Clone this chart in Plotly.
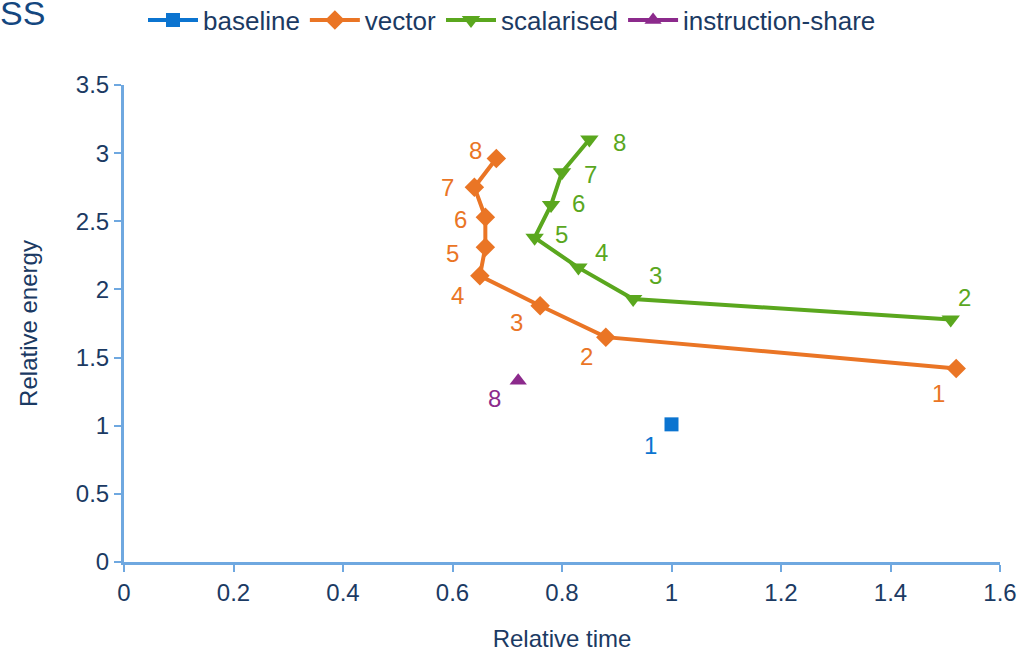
import plotly.graph_objects as go

# Data
baseline_x = [1.0]
baseline_y = [1.01]
baseline_lbl = ["1"]

vector_x = [1.52, 0.88, 0.76, 0.65, 0.66, 0.66, 0.64, 0.68]
vector_y = [1.42, 1.65, 1.88, 2.10, 2.31, 2.53, 2.75, 2.96]
vector_lbl = ["1", "2", "3", "4", "5", "6", "7", "8"]

scal_x = [1.51, 0.93, 0.83, 0.75, 0.78, 0.80, 0.85]
scal_y = [1.78, 1.93, 2.16, 2.38, 2.62, 2.86, 3.10]
scal_lbl = ["2", "3", "4", "5", "6", "7", "8"]

instr_x = [0.72]
instr_y = [1.33]
instr_lbl = ["8"]

FONT = "Liberation Sans, Arial, sans-serif"
NAVY = "#1b3a63"
AXIS = "#6fa8e0"
C_BASE = "#0b74d0"
C_VEC = "#ea7525"
C_SCAL = "#5aa71e"
C_INS = "#8c2a8c"
FS = 24

fig = go.Figure()
fig.add_trace(go.Scatter(x=baseline_x, y=baseline_y, name="baseline", mode="lines+markers",
                         line=dict(color=C_BASE, width=4),
                         marker=dict(symbol="square", size=14, color=C_BASE)))
fig.add_trace(go.Scatter(x=vector_x, y=vector_y, name="vector", mode="lines+markers",
                         line=dict(color=C_VEC, width=4),
                         marker=dict(symbol="diamond", size=15, color=C_VEC)))
fig.add_trace(go.Scatter(x=scal_x, y=scal_y, name="scalarised", mode="lines+markers",
                         line=dict(color=C_SCAL, width=4),
                         marker=dict(symbol="triangle-down", size=16, color=C_SCAL)))
fig.add_trace(go.Scatter(x=instr_x, y=instr_y, name="instruction-share", mode="lines+markers",
                         line=dict(color=C_INS, width=4),
                         marker=dict(symbol="triangle-up", size=15, color=C_INS)))

annotations = []
def add_labels(xs, ys, labels, color, offsets):
    for x, y, t, (dx, dy) in zip(xs, ys, labels, offsets):
        annotations.append(dict(x=x, y=y, text=t, showarrow=False, xshift=dx, yshift=-dy,
                                font=dict(family=FONT, size=FS, color=color)))

add_labels(vector_x, vector_y, vector_lbl, C_VEC,
           [(-18, 25), (-19, 19), (-24, 17), (-22, 20), (-33, 6), (-25, 2), (-27, 0), (-21, -8)])
add_labels(scal_x, scal_y, scal_lbl, C_SCAL,
           [(14, -22), (22, -23), (23, -15), (27, -3), (27, -1), (28, 2), (30, 3)])
add_labels(instr_x, instr_y, instr_lbl, C_INS, [(-24, 18)])
add_labels(baseline_x, baseline_y, baseline_lbl, C_BASE, [(-21, 21)])

annotations.append(dict(text="SS", xref="paper", yref="paper", x=-124/876, y=1 + 85/477,
                        xanchor="left", yanchor="top", showarrow=False, xshift=-2, yshift=8,
                        font=dict(family=FONT, size=34, color="#14477f")))

fig.update_layout(
    width=1031, height=652,
    margin=dict(l=124, r=31, t=85, b=90, autoexpand=False),
    paper_bgcolor="white", plot_bgcolor="white",
    font=dict(family=FONT, size=FS, color=NAVY),
    showlegend=True,
    legend=dict(orientation="h", x=143/1031, y=1 - 20/652, xref="container", yref="container",
                xanchor="left", yanchor="middle", font=dict(size=26, color=NAVY),
                itemwidth=50, tracegroupgap=0, bgcolor="rgba(0,0,0,0)"),
    annotations=annotations,
    xaxis=dict(range=[0, 1.6], dtick=0.2, showgrid=False, zeroline=False, automargin=False,
               showline=True, linecolor=AXIS, linewidth=3,
               ticks="outside", ticklen=7, tickwidth=2, tickcolor=AXIS,
               tickfont=dict(size=FS, color=NAVY),
               title=dict(text="Relative time", font=dict(size=FS, color=NAVY), standoff=26)),
    yaxis=dict(range=[0, 3.5], dtick=0.5, showgrid=False, zeroline=False, automargin=False,
               showline=True, linecolor=AXIS, linewidth=3,
               ticks="outside", ticklen=7, tickwidth=2, tickcolor=AXIS,
               tickfont=dict(size=FS, color=NAVY),
               title=dict(text="Relative energy", font=dict(size=FS, color=NAVY), standoff=32)),
)

fig.write_html("out.html", config={"displayModeBar": False},
               post_script="document.body.style.margin='0px';")
